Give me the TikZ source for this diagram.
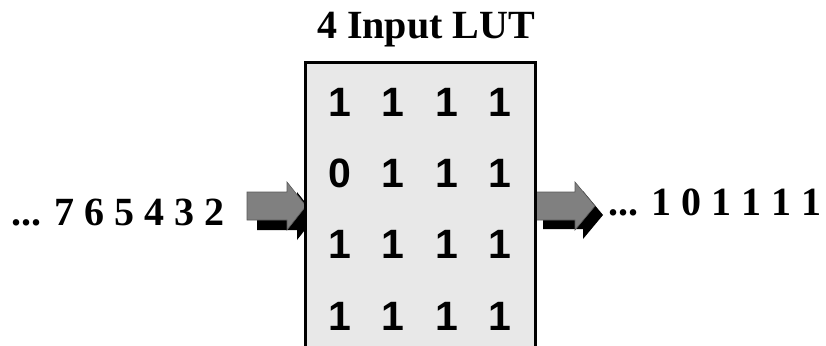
\documentclass[tikz,border=0pt]{standalone}
\usepackage{fontspec}
\setmainfont{Liberation Serif}
\newfontfamily\arialfont{Liberation Sans}
\definecolor{lutfill}{HTML}{E8E8E8}
\definecolor{arrowgray}{HTML}{808080}
\tikzset{
  bit/.style={font=\arialfont\bfseries\fontsize{41}{41}\selectfont, anchor=base, inner sep=0pt},
  seq/.style={font=\bfseries\fontsize{40}{40}\selectfont, inner sep=0pt},
  lutbox/.style={fill=lutfill, draw=black, line width=3pt},
  blockarrow/.style={fill=arrowgray, draw=arrowgray!70!black, line width=0.6pt},
  arrowshadow/.style={fill=black}
}
% block arrow: shaft from #1 (left, centre line) of length #2, head length #3
\newcommand{\blockarrowpath}[3]{%
  (#1) ++(0,-14) -- ++(#2,0) -- ++(0,-10) -- ++(#3,24) -- ++(-#3,24) -- ++(0,-10) -- ++(-#2,0) -- cycle}
\begin{document}
\begin{tikzpicture}[x=1pt,y=-1pt]
  \clip (0,0) rectangle (826,345);
  \fill[white] (0,0) rectangle (826,345);

  % input arrow with its drop shadow
  \coordinate (inA) at (247,206);
  \coordinate (inS) at (257,216);
  \fill[arrowshadow] \blockarrowpath{inS}{40}{19};
  \path[blockarrow] \blockarrowpath{inA}{40}{19};

  % output arrow with its drop shadow
  \coordinate (outA) at (535,206);
  \coordinate (outS) at (543,215);
  \fill[arrowshadow] \blockarrowpath{outS}{40}{20};
  \path[blockarrow] \blockarrowpath{outA}{40}{20};

  % look-up table body, open at the bottom
  \fill[lutfill] (305,62) rectangle (535,360);
  \draw[line width=3pt] (305,360) -- (305,62) -- (535,62) -- (535,360);

  \node[seq, anchor=base] (title) at (426,38) {4 Input LUT};

  % table contents
  \foreach \r/\yb/\a/\b/\c/\d in {1/116/1/1/1/1, 2/187/0/1/1/1, 3/258/1/1/1/1, 4/330/1/1/1/1} {
    \node[bit] (b\r a) at (340,\yb) {\a};
    \node[bit] (b\r b) at (393,\yb) {\b};
    \node[bit] (b\r c) at (447,\yb) {\c};
    \node[bit] (b\r d) at (500,\yb) {\d};
  }

  \node[seq, anchor=base west] (inseq) at (11,225) {... 7 6 5 4 3 2};
  \node[seq, anchor=base west] (outseq) at (608,215) {... 1 0 1 1 1 1};
\end{tikzpicture}
\end{document}
